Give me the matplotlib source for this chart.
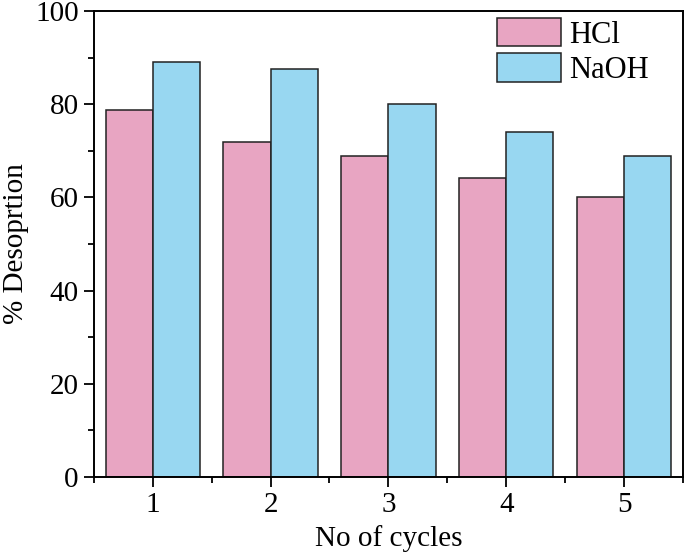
import matplotlib
matplotlib.use('Agg')
from matplotlib import pyplot as plt
from matplotlib.ticker import MultipleLocator
import numpy as np

plt.rcParams['font.family'] = ['Liberation Serif', 'DejaVu Serif']

cycles = [1, 2, 3, 4, 5]
hcl = [78.8, 71.9, 68.9, 64.2, 60.1]
naoh = [89.1, 87.6, 80.0, 74.1, 68.8]
series_names = ['HCl', 'NaOH']

fig = plt.figure(figsize=(6.85, 5.55), dpi=100)
ax = fig.add_axes([0.137, 0.1405, 0.860, 0.8395])

X = np.array(cycles)
w = 0.4
ax.bar(X - w / 2, hcl, width=w, color='#E8A5C2', edgecolor='#222222', linewidth=1.1, label=series_names[0])
ax.bar(X + w / 2, naoh, width=w, color='#98D7F1', edgecolor='#222222', linewidth=1.1, label=series_names[1])

ax.set_xlim(0.5, 5.5)
ax.set_ylim(0, 100)
ax.set_xticks(cycles)
ax.xaxis.set_minor_locator(MultipleLocator(0.5))
ax.yaxis.set_major_locator(MultipleLocator(20))
ax.yaxis.set_minor_locator(MultipleLocator(10))
ax.tick_params(axis='both', which='major', direction='out', length=7, width=1.3, labelsize=21, pad=4)
ax.tick_params(axis='both', which='minor', direction='out', length=4, width=1.3)
ax.tick_params(top=False, right=False, which='both')
for s in ax.spines.values():
    s.set_linewidth(1.4)

ax.set_xlabel('No of cycles', fontsize=21, labelpad=5)
ax.set_ylabel('% Desoprtion', fontsize=21, labelpad=4)

# legend sits near the top right, no frame
ax.legend(loc='upper left', frameon=False, fontsize=22, handlelength=2.1, handleheight=1.05,
          handletextpad=0.28, labelspacing=0.12, borderpad=0, borderaxespad=0,
          bbox_to_anchor=(0.684, 0.985))

fig.savefig('out.png', dpi=100)
